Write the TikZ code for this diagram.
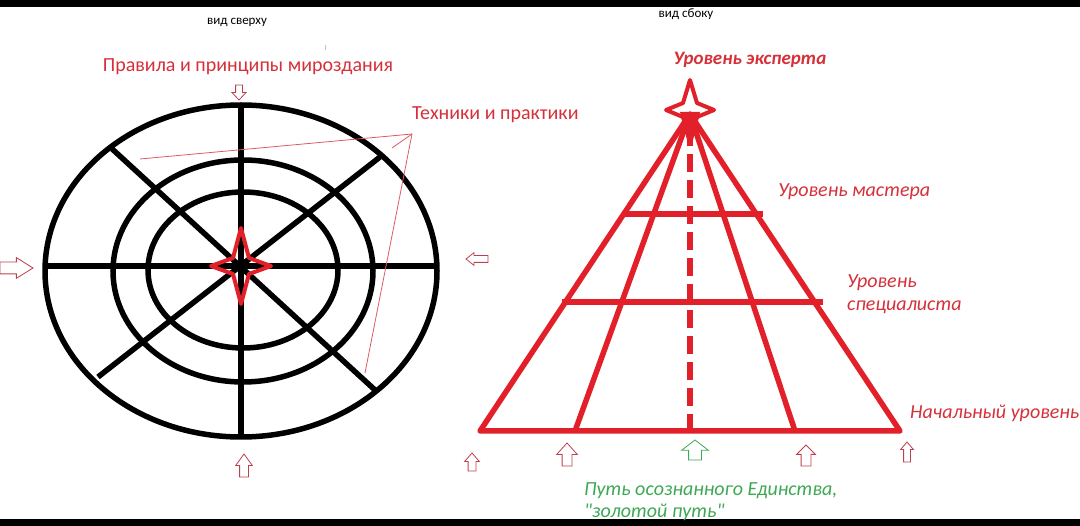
\documentclass[tikz,border=0pt]{standalone}
\usepackage{fontspec}
\setmainfont{Carlito}
\usepackage{xcolor}
\usepackage{tikz}
\usetikzlibrary{positioning}
\usetikzlibrary{shapes.arrows}

\definecolor{linered}{RGB}{226,32,42}
\definecolor{txtred}{RGB}{214,48,58}
\definecolor{arrred}{RGB}{190,64,78}
\definecolor{goldgreen}{RGB}{62,168,84}

\begin{document}
\begin{tikzpicture}[x=1pt,y=-1pt]
    \tikzset{Ring/.style={draw, line width=5.5pt},
      Pyr/.style={draw=linered, line width=5.5pt},
      Lbl/.style={text=txtred, font=\fontsize{20}{23}\selectfont, inner sep=0pt},
      Hollow/.style={single arrow, draw=arrred, line width=0.8pt, fill=white, inner sep=0pt, outer sep=0pt, anchor=tip},
      pics/quadstar/.style n args={3}{code={\draw[line width=4pt, draw=linered, line join=round]
        (0,-#1) -- (#3,-#3) -- (#2,0) -- (#3,#3) -- (0,#1) -- (-#3,#3) -- (-#2,0) -- (-#3,-#3) -- cycle;}}};
    \useasboundingbox (0,0) rectangle (1080,526);
    \fill[black] (0,0) rectangle (1080,7);
    \fill[black] (0,519) rectangle (1080,526);

    % вид сверху
    \coordinate (c) at (241,266);
    \draw[Ring] (241,271) ellipse [x radius=196, y radius=166];
    \draw[Ring] (243,271) ellipse [x radius=130, y radius=111];
    \draw[Ring] (243,270) ellipse [x radius=95, y radius=78];
    \draw[Ring] (241,105) -- (241,438);
    \draw[Ring] (45,266) -- (437,266);
    \draw[Ring] (110,147) -- (375,390);
    \draw[Ring] (380,157) -- (98,377);
    \fill (c) ellipse [x radius=8, y radius=4.5];
    \pic at (c) {quadstar={38}{30}{8}};

    \node[font=\fontsize{13}{15}\selectfont] (a) at (237,22) {вид сверху};
    \fill[gray!50] (324.5,45) rectangle (325.5,50);
    \node[Lbl] (b) at (248,67) {Правила и принципы мироздания};
    \node[Lbl, anchor=west] (t) at (412,115) {Техники и практики};
    \coordinate (tp) at (412,134);
    \draw[txtred!80, line width=0.8pt] (tp) -- (140,159);
    \draw[txtred!80, line width=0.8pt] (tp) -- (392,148);
    \draw[txtred!80, line width=0.8pt] (tp) -- (365,373);

    \node[Hollow, minimum height=15pt, inner ysep=3pt, single arrow head extend=3.5pt, single arrow tip angle=86, rotate=-90] (wT) at (239,100) {};
    \node[Hollow, minimum height=33pt, inner ysep=5.5pt, single arrow head extend=4.5pt, single arrow tip angle=64] (wL) at (33,268) {};
    \node[Hollow, minimum height=22pt, inner ysep=3pt, single arrow head extend=3pt, single arrow tip angle=77, rotate=180] (wR) at (466,259) {};
    \node[Hollow, minimum height=23pt, inner ysep=4pt, single arrow head extend=4pt, single arrow tip angle=72, rotate=90] (wB) at (244,454) {};

    % вид сбоку
    \coordinate (apex) at (690,114);
    \coordinate (bl) at (480,431);
    \coordinate (br) at (900,431);
    \coordinate (bm1) at (575,431);
    \coordinate (bm2) at (795,431);
    \draw[Pyr, line join=round] (bl) -- (apex) -- (br) -- cycle;
    \draw[Pyr] (apex) -- (bm1);
    \draw[Pyr] (apex) -- (bm2);
    \draw[Pyr] (622,214) -- (763,214);
    \draw[Pyr] (562,302) -- (823,302);
    \draw[Pyr, dash pattern=on 18pt off 8pt] (690,128) -- (690,431);
    \fill[linered] (680,112) -- (700,112) -- (693,140) -- (687,140) -- cycle;
    \pic at (690,110) {quadstar={30}{24}{7}};

    \node[font=\fontsize{13}{15}\selectfont] (s) at (686,14) {вид сбоку};
    \node[Lbl, font=\fontsize{19}{22}\selectfont\bfseries\itshape] (e) at (750,60) {Уровень эксперта};
    \node[Lbl, font=\fontsize{20}{23}\selectfont\itshape, anchor=west] (m) at (778,192) {Уровень мастера};
    \node[Lbl, font=\fontsize{20}{23}\selectfont\itshape, anchor=west, align=left] (sp) at (847,294) {Уровень\\специалиста};
    \node[Lbl, font=\fontsize{20}{23}\selectfont\itshape, anchor=west] (n) at (910,413) {Начальный уровень};
    \node[Lbl, text=goldgreen, font=\fontsize{20}{22}\selectfont\itshape, anchor=west, align=left] (g) at (584,502) {Путь осознанного Единства,\\\textquotedbl золотой путь\textquotedbl};

    \node[Hollow, minimum height=18pt, inner ysep=3.5pt, single arrow head extend=3.5pt, single arrow tip angle=82, rotate=90] (u1) at (472,453) {};
    \node[Hollow, minimum height=23pt, inner ysep=4.5pt, single arrow head extend=5.5pt, single arrow tip angle=84, rotate=90] (u2) at (567,443) {};
    \node[Hollow, draw=goldgreen, minimum height=20pt, inner ysep=6pt, single arrow head extend=7pt, single arrow tip angle=105, rotate=90] (u3) at (695,440) {};
    \node[Hollow, minimum height=21pt, inner ysep=4.5pt, single arrow head extend=4.5pt, single arrow tip angle=90, rotate=90] (u4) at (806,445) {};
    \node[Hollow, minimum height=20pt, inner ysep=3pt, single arrow head extend=3pt, single arrow tip angle=81, rotate=90] (u5) at (907,442) {};
  \end{tikzpicture}
\end{document}
